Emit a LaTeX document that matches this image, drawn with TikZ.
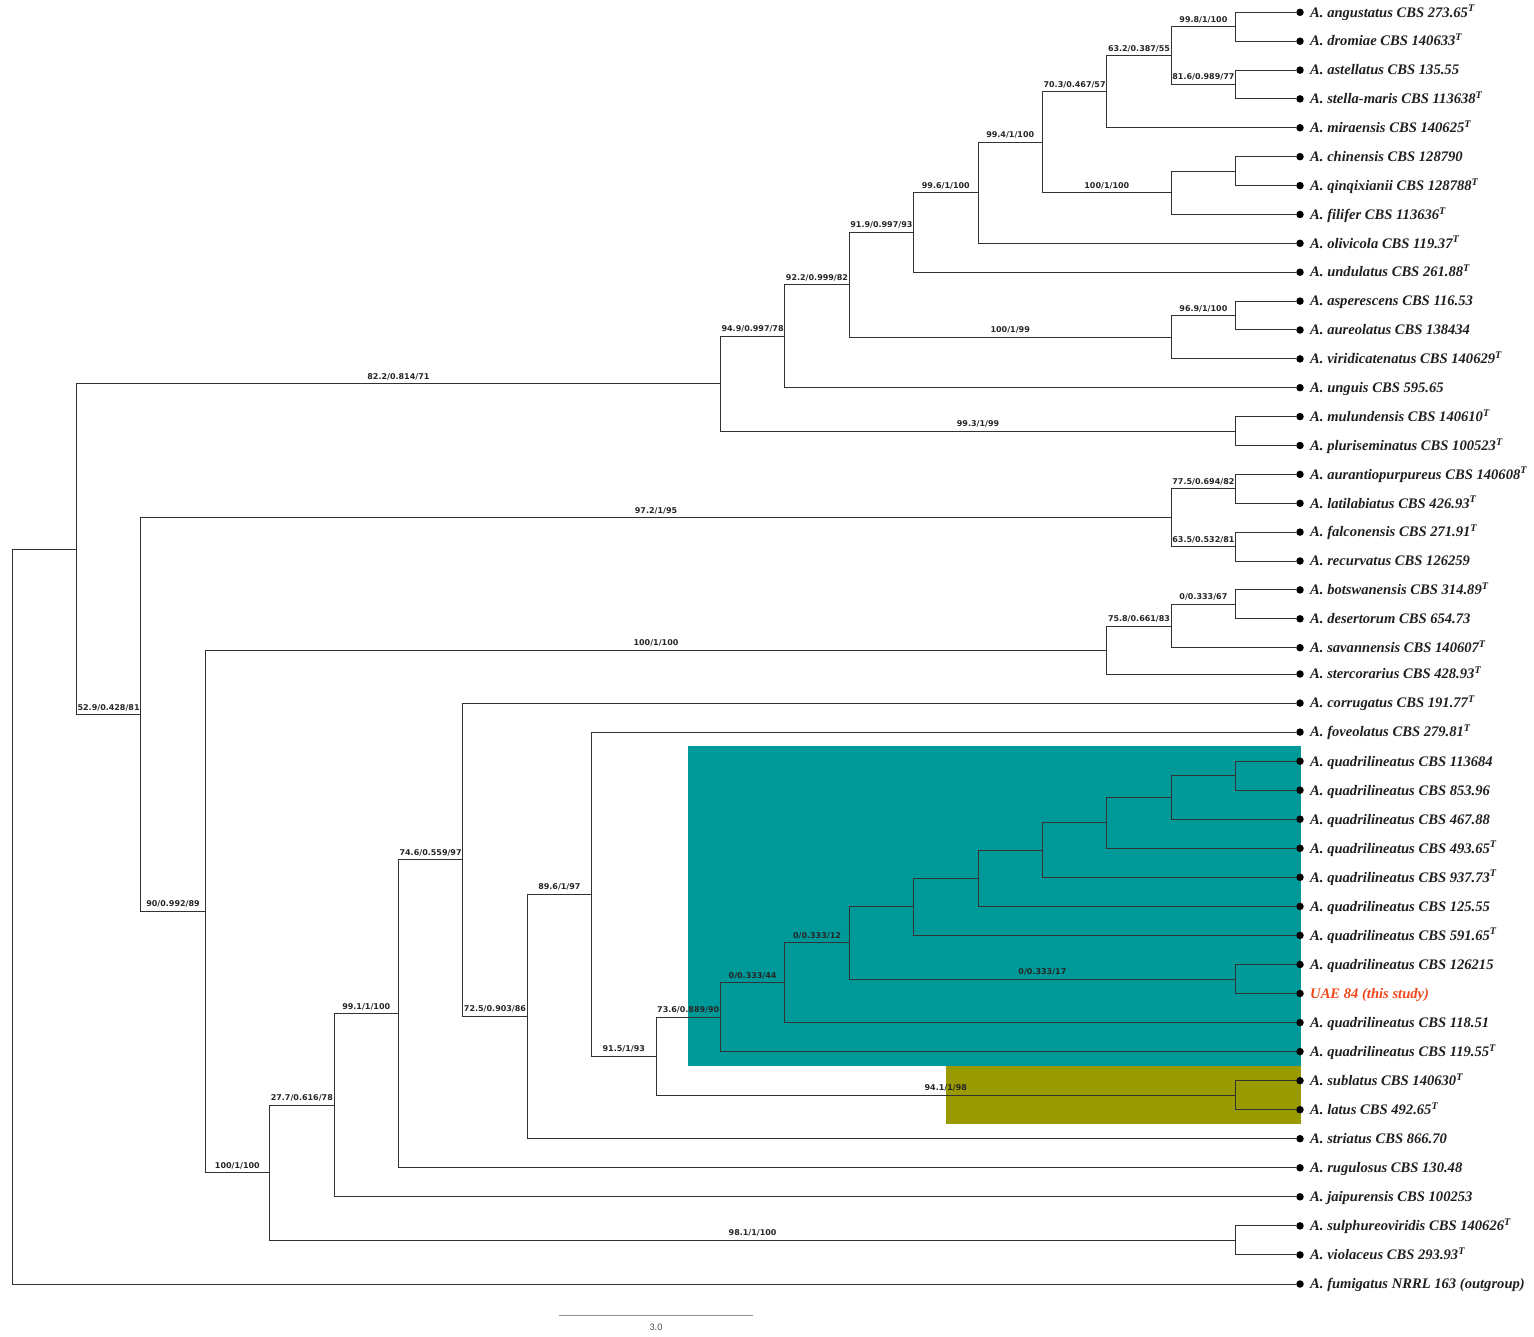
\documentclass[tikz,border=0pt]{standalone}
\usepackage{fontspec}
\setmainfont{Liberation Serif}
\newfontfamily\labfont{DejaVu Sans}
\newfontfamily\scalefont{Carlito}
\definecolor{cladeteal}{RGB}{0,153,153}
\definecolor{cladeolive}{RGB}{153,153,0}
\definecolor{lncol}{RGB}{50,50,50}
\definecolor{uaered}{RGB}{240,70,25}
\newcommand\brlab[3]{\draw[brline] (#1) |- node[blab]{#3} (#2);}
\newcommand\brplain[2]{\draw[brline] (#1) |- (#2);}
\newcommand\leafnode[3]{\node[tipdot] (L#1) at (1300,#2) {};\node[leaflab] (T#1) at (1310,#2) {#3};}
\begin{document}
\begin{tikzpicture}[x=1pt,y=-1pt,
 brline/.style={draw=lncol, line width=1pt},
 blab/.style={pos=0.75, anchor=base, yshift=4.5pt, inner sep=0pt, font=\labfont\bfseries\fontsize{8}{9}\selectfont, text=black!85},
 tipdot/.style={circle, fill=black, inner sep=0pt, minimum size=7.5pt},
 leaflab/.style={anchor=base west, yshift=-4.8pt, inner sep=0pt, font=\bfseries\itshape\fontsize{14.6}{16}\selectfont, text=black!88}]
\useasboundingbox (0,0) rectangle (1534,1337);
% clade highlights
\fill[cladeteal] (688,746) rectangle (1301,1066);
\fill[cladeolive] (946,1066) rectangle (1301,1124);
% leaves
\leafnode{0}{12.3}{A. angustatus CBS 273.65\textsuperscript{T}}
\leafnode{1}{41.2}{A. dromiae CBS 140633\textsuperscript{T}}
\leafnode{2}{70.1}{A. astellatus CBS 135.55}
\leafnode{3}{98.9}{A. stella-maris CBS 113638\textsuperscript{T}}
\leafnode{4}{127.8}{A. miraensis CBS 140625\textsuperscript{T}}
\leafnode{5}{156.7}{A. chinensis CBS 128790}
\leafnode{6}{185.6}{A. qinqixianii CBS 128788\textsuperscript{T}}
\leafnode{7}{214.5}{A. filifer CBS 113636\textsuperscript{T}}
\leafnode{8}{243.3}{A. olivicola CBS 119.37\textsuperscript{T}}
\leafnode{9}{272.2}{A. undulatus CBS 261.88\textsuperscript{T}}
\leafnode{10}{301.1}{A. asperescens CBS 116.53}
\leafnode{11}{330.0}{A. aureolatus CBS 138434}
\leafnode{12}{358.9}{A. viridicatenatus CBS 140629\textsuperscript{T}}
\leafnode{13}{387.7}{A. unguis CBS 595.65}
\leafnode{14}{416.6}{A. mulundensis CBS 140610\textsuperscript{T}}
\leafnode{15}{445.5}{A. pluriseminatus CBS 100523\textsuperscript{T}}
\leafnode{16}{474.4}{A. aurantiopurpureus CBS 140608\textsuperscript{T}}
\leafnode{17}{503.3}{A. latilabiatus CBS 426.93\textsuperscript{T}}
\leafnode{18}{532.1}{A. falconensis CBS 271.91\textsuperscript{T}}
\leafnode{19}{561.0}{A. recurvatus CBS 126259}
\leafnode{20}{589.9}{A. botswanensis CBS 314.89\textsuperscript{T}}
\leafnode{21}{618.8}{A. desertorum CBS 654.73}
\leafnode{22}{647.7}{A. savannensis CBS 140607\textsuperscript{T}}
\leafnode{23}{674.0}{A. stercorarius CBS 428.93\textsuperscript{T}}
\leafnode{24}{703.1}{A. corrugatus CBS 191.77\textsuperscript{T}}
\leafnode{25}{732.1}{A. foveolatus CBS 279.81\textsuperscript{T}}
\leafnode{26}{761.2}{A. quadrilineatus CBS 113684}
\leafnode{27}{790.2}{A. quadrilineatus CBS 853.96}
\leafnode{28}{819.2}{A. quadrilineatus CBS 467.88}
\leafnode{29}{848.3}{A. quadrilineatus CBS 493.65\textsuperscript{T}}
\leafnode{30}{877.3}{A. quadrilineatus CBS 937.73\textsuperscript{T}}
\leafnode{31}{906.4}{A. quadrilineatus CBS 125.55}
\leafnode{32}{935.4}{A. quadrilineatus CBS 591.65\textsuperscript{T}}
\leafnode{33}{964.5}{A. quadrilineatus CBS 126215}
\leafnode{34}{993.5}{\textcolor{uaered}{UAE 84 (this study)}}
\leafnode{35}{1022.6}{A. quadrilineatus CBS 118.51}
\leafnode{36}{1051.6}{A. quadrilineatus CBS 119.55\textsuperscript{T}}
\leafnode{37}{1080.7}{A. sublatus CBS 140630\textsuperscript{T}}
\leafnode{38}{1109.7}{A. latus CBS 492.65\textsuperscript{T}}
\leafnode{39}{1138.7}{A. striatus CBS 866.70}
\leafnode{40}{1167.8}{A. rugulosus CBS 130.48}
\leafnode{41}{1196.8}{A. jaipurensis CBS 100253}
\leafnode{42}{1225.9}{A. sulphureoviridis CBS 140626\textsuperscript{T}}
\leafnode{43}{1254.9}{A. violaceus CBS 293.93\textsuperscript{T}}
\leafnode{44}{1284.0}{A. fumigatus NRRL 163 (outgroup)}
% internal nodes
\coordinate (R) at (12,916.55);
\coordinate (N043) at (76.4,549.1);
\coordinate (N015) at (720.4,383.7);
\coordinate (N013) at (784.8,336.3);
\coordinate (N012) at (849.2,284.85);
\coordinate (N09) at (913.6,232.5);
\coordinate (N08) at (978,192.8);
\coordinate (N07) at (1042.4,142.25);
\coordinate (N04) at (1106.8,91.7);
\coordinate (N03) at (1171.2,55.6);
\coordinate (N01) at (1235.6,26.75);
\coordinate (N23) at (1235.6,84.5);
\coordinate (N57) at (1171.2,192.8);
\coordinate (N56) at (1235.6,171.15);
\coordinate (N1012) at (1171.2,337.2);
\coordinate (N1011) at (1235.6,315.55);
\coordinate (N1415) at (1235.6,431.05);
\coordinate (N1643) at (140.8,714.55);
\coordinate (N1619) at (1171.2,517.7);
\coordinate (N1617) at (1235.6,488.85);
\coordinate (N1819) at (1235.6,546.55);
\coordinate (N2043) at (205.2,911.4);
\coordinate (N2023) at (1106.8,650);
\coordinate (N2022) at (1171.2,626);
\coordinate (N2021) at (1235.6,604.35);
\coordinate (N2443) at (269.6,1172.85);
\coordinate (N4243) at (1235.6,1240.4);
\coordinate (N2441) at (334,1105.3);
\coordinate (N2440) at (398.4,1013.8);
\coordinate (N2439) at (462.8,859.75);
\coordinate (N2539) at (527.2,1016.4);
\coordinate (N2538) at (591.6,894.15);
\coordinate (N2638) at (656,1056.2);
\coordinate (N3738) at (1235.6,1095.2);
\coordinate (N2636) at (720.4,1017.2);
\coordinate (N2635) at (784.8,982.75);
\coordinate (N2634) at (849.2,942.9);
\coordinate (N3334) at (1235.6,979);
\coordinate (N2632) at (913.6,906.8);
\coordinate (N2631) at (978,878.25);
\coordinate (N2630) at (1042.4,850.1);
\coordinate (N2629) at (1106.8,822.9);
\coordinate (N2628) at (1171.2,797.45);
\coordinate (N2627) at (1235.6,775.7);
% branches
\brplain{R}{N043}
\brplain{R}{L44}
\brlab{N043}{N015}{82.2/0.814/71}
\brlab{N043}{N1643}{52.9/0.428/81}
\brlab{N015}{N013}{94.9/0.997/78}
\brlab{N015}{N1415}{99.3/1/99}
\brlab{N013}{N012}{92.2/0.999/82}
\brplain{N013}{L13}
\brlab{N012}{N09}{91.9/0.997/93}
\brlab{N012}{N1012}{100/1/99}
\brlab{N09}{N08}{99.6/1/100}
\brplain{N09}{L9}
\brlab{N08}{N07}{99.4/1/100}
\brplain{N08}{L8}
\brlab{N07}{N04}{70.3/0.467/57}
\brlab{N07}{N57}{100/1/100}
\brlab{N04}{N03}{63.2/0.387/55}
\brplain{N04}{L4}
\brlab{N03}{N01}{99.8/1/100}
\brlab{N03}{N23}{81.6/0.989/77}
\brplain{N01}{L0}
\brplain{N01}{L1}
\brplain{N23}{L2}
\brplain{N23}{L3}
\brplain{N57}{N56}
\brplain{N57}{L7}
\brplain{N56}{L5}
\brplain{N56}{L6}
\brlab{N1012}{N1011}{96.9/1/100}
\brplain{N1012}{L12}
\brplain{N1011}{L10}
\brplain{N1011}{L11}
\brplain{N1415}{L14}
\brplain{N1415}{L15}
\brlab{N1643}{N1619}{97.2/1/95}
\brlab{N1643}{N2043}{90/0.992/89}
\brlab{N1619}{N1617}{77.5/0.694/82}
\brlab{N1619}{N1819}{63.5/0.532/81}
\brplain{N1617}{L16}
\brplain{N1617}{L17}
\brplain{N1819}{L18}
\brplain{N1819}{L19}
\brlab{N2043}{N2023}{100/1/100}
\brlab{N2043}{N2443}{100/1/100}
\brlab{N2023}{N2022}{75.8/0.661/83}
\brplain{N2023}{L23}
\brlab{N2022}{N2021}{0/0.333/67}
\brplain{N2022}{L22}
\brplain{N2021}{L20}
\brplain{N2021}{L21}
\brlab{N2443}{N2441}{27.7/0.616/78}
\brlab{N2443}{N4243}{98.1/1/100}
\brplain{N4243}{L42}
\brplain{N4243}{L43}
\brlab{N2441}{N2440}{99.1/1/100}
\brplain{N2441}{L41}
\brlab{N2440}{N2439}{74.6/0.559/97}
\brplain{N2440}{L40}
\brplain{N2439}{L24}
\brlab{N2439}{N2539}{72.5/0.903/86}
\brlab{N2539}{N2538}{89.6/1/97}
\brplain{N2539}{L39}
\brplain{N2538}{L25}
\brlab{N2538}{N2638}{91.5/1/93}
\brlab{N2638}{N2636}{73.6/0.889/90}
\brlab{N2638}{N3738}{94.1/1/98}
\brplain{N3738}{L37}
\brplain{N3738}{L38}
\brlab{N2636}{N2635}{0/0.333/44}
\brplain{N2636}{L36}
\brlab{N2635}{N2634}{0/0.333/12}
\brplain{N2635}{L35}
\brplain{N2634}{N2632}
\brlab{N2634}{N3334}{0/0.333/17}
\brplain{N3334}{L33}
\brplain{N3334}{L34}
\brplain{N2632}{N2631}
\brplain{N2632}{L32}
\brplain{N2631}{N2630}
\brplain{N2631}{L31}
\brplain{N2630}{N2629}
\brplain{N2630}{L30}
\brplain{N2629}{N2628}
\brplain{N2629}{L29}
\brplain{N2628}{N2627}
\brplain{N2628}{L28}
\brplain{N2627}{L26}
\brplain{N2627}{L27}
% scale bar
\coordinate (S1) at (559,1315.7);
\coordinate (S2) at (753,1315.7);
\draw[gray!85, line width=1.4pt] (S1) -- node[pos=0.5, yshift=-11.3pt, anchor=center, inner sep=0pt, font=\scalefont\fontsize{10}{11}\selectfont, text=black!70] (SL) {3.0} (S2);
\end{tikzpicture}
\end{document}
